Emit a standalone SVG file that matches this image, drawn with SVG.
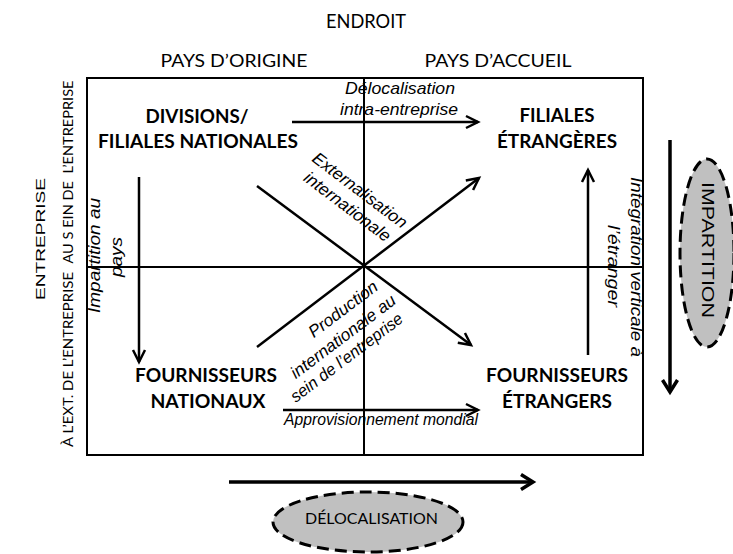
<svg xmlns="http://www.w3.org/2000/svg" width="733" height="554" viewBox="0 0 733 554">
<style>
.cal{font-family:Lato,"Open Sans","Liberation Sans",sans-serif;fill:#000}
.b{font-weight:bold;font-size:18px}
.ar{font-family:"Liberation Sans",Arial,sans-serif;fill:#000}
.it{font-style:italic;font-size:17px}
.ln{stroke:#000;stroke-width:2;fill:none}
.arr{stroke:#000;stroke-width:2.5;fill:none;marker-end:url(#ah)}
.big{stroke:#000;stroke-width:3.5;fill:none;marker-end:url(#ahb)}
.ell{fill:#c0c0c0;stroke:#000;stroke-width:3;stroke-dasharray:12 6}
</style>
<defs>
<marker id="ah" markerUnits="userSpaceOnUse" markerWidth="18" markerHeight="18" refX="14" refY="9" orient="auto">
<path d="M2,3 L14,9 L2,15" fill="none" stroke="#000" stroke-width="2.5"/>
</marker>
<marker id="ahb" markerUnits="userSpaceOnUse" markerWidth="20" markerHeight="22" refX="15" refY="11" orient="auto">
<path d="M3,3.5 L15,11 L3,18.5" fill="none" stroke="#000" stroke-width="3.5"/>
</marker>
</defs>
<rect width="733" height="554" fill="#fff"/>

<g id="headers">
<text class="cal" x="366" y="28" font-size="19" text-anchor="middle" textLength="80" lengthAdjust="spacingAndGlyphs">ENDROIT</text>
<text class="cal" x="234" y="67" font-size="17" text-anchor="middle" textLength="147" lengthAdjust="spacingAndGlyphs">PAYS D’ORIGINE</text>
<text class="cal" x="498" y="67" font-size="17" text-anchor="middle" textLength="147" lengthAdjust="spacingAndGlyphs">PAYS D’ACCUEIL</text>
<text class="ar" transform="translate(45,239) rotate(-90)" font-size="13" text-anchor="middle" textLength="122" lengthAdjust="spacingAndGlyphs">ENTREPRISE</text>
<text class="cal" transform="translate(73,359.5) rotate(-90)" font-size="14" text-anchor="middle" textLength="175" lengthAdjust="spacingAndGlyphs">À L’EXT. DE L’ENTREPRISE</text>
<text class="cal" transform="translate(73,172) rotate(-90)" font-size="14" text-anchor="middle" textLength="183" lengthAdjust="spacingAndGlyphs" xml:space="preserve">AU S EIN DE  L’ENTREPRISE</text>
</g>

<g id="frame">
<rect x="87" y="78" width="556" height="377" class="ln"/>
<line x1="364" y1="78" x2="364" y2="455" class="ln"/>
<line x1="87" y1="267" x2="643" y2="267" class="ln"/>
</g>

<g id="connectors">
<line x1="292" y1="122" x2="478" y2="122" class="arr"/>
<line x1="139" y1="177" x2="139" y2="362" class="arr"/>
<line x1="283" y1="410" x2="478" y2="410" class="arr"/>
<line x1="588" y1="355" x2="588" y2="170" class="arr"/>
<line x1="257" y1="186" x2="471" y2="345" class="arr"/>
<line x1="257" y1="347" x2="479" y2="178" class="arr"/>
<line x1="670" y1="140" x2="670" y2="392" class="big"/>
<line x1="229" y1="482" x2="533" y2="482" class="big"/>
</g>

<g id="connector-labels">
<text class="ar it" x="400" y="94" text-anchor="middle" textLength="110" lengthAdjust="spacingAndGlyphs">Délocalisation</text>
<text class="ar it" x="399" y="115" text-anchor="middle" textLength="118" lengthAdjust="spacingAndGlyphs">intra-entreprise</text>
<text class="ar it" x="381" y="425" font-size="16" text-anchor="middle" textLength="194" lengthAdjust="spacingAndGlyphs">Approvisionnement mondial</text>
<text class="ar it" transform="translate(100,255.5) rotate(-90)" text-anchor="middle" textLength="115" lengthAdjust="spacingAndGlyphs">Impartition au</text>
<text class="ar it" transform="translate(122,257) rotate(-90)" text-anchor="middle" textLength="40" lengthAdjust="spacingAndGlyphs">pays</text>
<text class="ar it" transform="translate(631,267) rotate(90)" text-anchor="middle" textLength="180" lengthAdjust="spacingAndGlyphs">Intégration verticale à</text>
<text class="ar it" transform="translate(608,266) rotate(90)" text-anchor="middle" textLength="82" lengthAdjust="spacingAndGlyphs">l’étranger</text>
<text class="ar it" transform="translate(356.4,194.8) rotate(37)" text-anchor="middle" textLength="114" lengthAdjust="spacingAndGlyphs">Externalisation</text>
<text class="ar it" transform="translate(343.9,211.3) rotate(37)" text-anchor="middle" textLength="104" lengthAdjust="spacingAndGlyphs">internationale</text>
<text class="ar it" transform="translate(346.5,313.6) rotate(-37)" text-anchor="middle" textLength="82" lengthAdjust="spacingAndGlyphs">Production</text>
<text class="ar it" transform="translate(346.5,341) rotate(-37)" text-anchor="middle" textLength="127" lengthAdjust="spacingAndGlyphs">internationale au</text>
<text class="ar it" transform="translate(350,362) rotate(-37)" text-anchor="middle" textLength="136" lengthAdjust="spacingAndGlyphs">sein de l’entreprise</text>
</g>

<g id="n-divisions">
<text class="cal b" x="197" y="123" text-anchor="middle" textLength="103" lengthAdjust="spacingAndGlyphs">DIVISIONS/</text>
<text class="cal b" x="198" y="148" text-anchor="middle" textLength="200" lengthAdjust="spacingAndGlyphs">FILIALES NATIONALES</text>
</g>
<g id="n-filiales-etrangeres">
<text class="cal b" x="557" y="122" text-anchor="middle" textLength="75" lengthAdjust="spacingAndGlyphs">FILIALES</text>
<text class="cal b" x="557" y="148" text-anchor="middle" textLength="120" lengthAdjust="spacingAndGlyphs">ÉTRANGÈRES</text>
</g>
<g id="n-fournisseurs-nationaux">
<text class="cal b" x="206" y="382" text-anchor="middle" textLength="142" lengthAdjust="spacingAndGlyphs">FOURNISSEURS</text>
<text class="cal b" x="208" y="408" text-anchor="middle" textLength="115" lengthAdjust="spacingAndGlyphs">NATIONAUX</text>
</g>
<g id="n-fournisseurs-etrangers">
<text class="cal b" x="557" y="382" text-anchor="middle" textLength="142" lengthAdjust="spacingAndGlyphs">FOURNISSEURS</text>
<text class="cal b" x="557" y="408" text-anchor="middle" textLength="110" lengthAdjust="spacingAndGlyphs">ÉTRANGERS</text>
</g>

<g id="n-impartition">
<ellipse cx="707" cy="253" rx="27" ry="94" class="ell"/>
<text class="ar" transform="translate(702,250) rotate(90)" font-size="17" text-anchor="middle" textLength="136" lengthAdjust="spacingAndGlyphs">IMPARTITION</text>
</g>
<g id="n-delocalisation">
<ellipse cx="368" cy="522" rx="95" ry="30" class="ell"/>
<text class="cal" x="371.5" y="524" font-size="16" text-anchor="middle" textLength="133" lengthAdjust="spacingAndGlyphs">DÉLOCALISATION</text>
</g>
</svg>
